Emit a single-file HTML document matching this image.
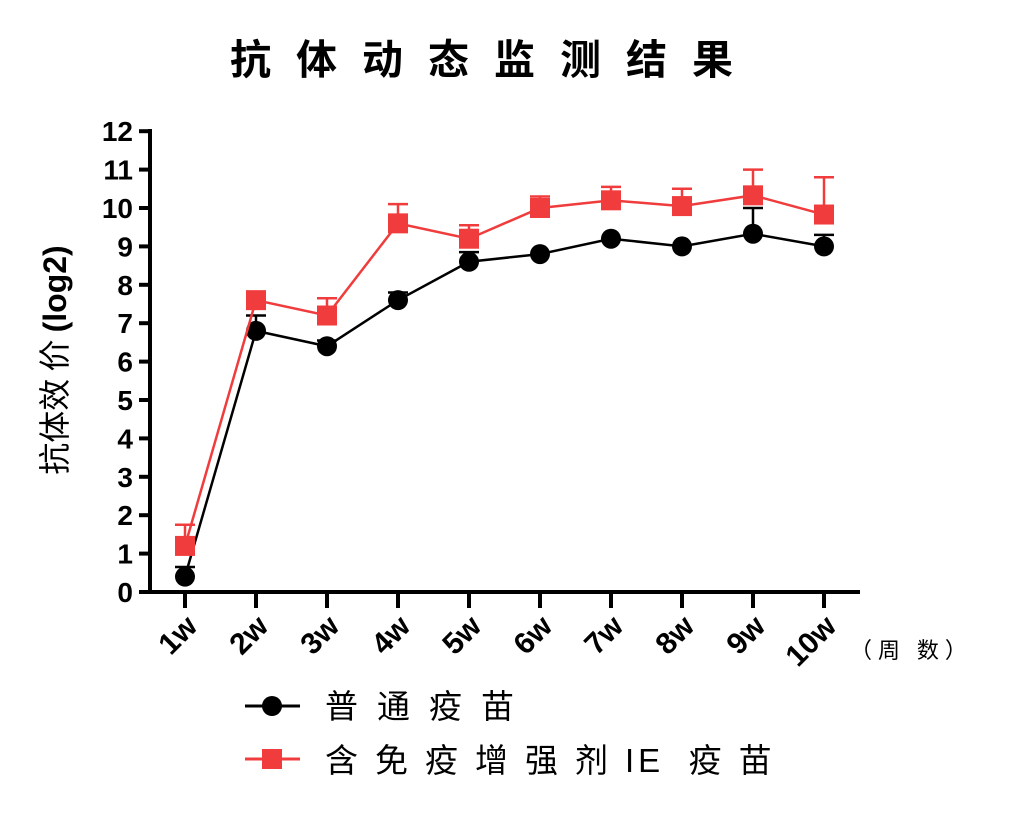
<!DOCTYPE html>
<html><head><meta charset="utf-8"><style>body{margin:0;background:#fff}svg{display:block}</style></head><body>
<svg width="1024" height="813" xmlns="http://www.w3.org/2000/svg" font-family="Liberation Sans, Noto Sans CJK SC, sans-serif">
<text x="230" y="74" font-size="41" font-weight="bold" font-family="Noto Sans CJK SC, sans-serif" letter-spacing="25">抗体动态监测结果</text>
<g stroke="#000" stroke-width="4" fill="none">
<line x1="150" y1="129" x2="150" y2="594"/>
<line x1="148" y1="592" x2="860" y2="592"/>
</g>
<g id="yt" stroke="#000" stroke-width="4"></g>
<g id="xt" stroke="#000" stroke-width="4"></g>
<g id="yl" font-size="28" font-weight="bold" text-anchor="end"></g>
<g id="xl" font-size="30" font-weight="bold" text-anchor="end"></g>
<text x="850" y="658" font-size="22" font-family="Noto Sans CJK SC, sans-serif" letter-spacing="6">（周 数）</text>
<text transform="translate(66,360) rotate(-90)" font-size="32" text-anchor="middle" font-family="Noto Sans CJK SC, sans-serif">抗体效 价 <tspan font-family="Liberation Sans" font-weight="bold"> (log2)</tspan></text>
<g id="series"></g>
<line x1="245" y1="706" x2="300" y2="706" stroke="#000" stroke-width="3"/>
<circle cx="272" cy="706" r="10" fill="#000"/>
<text x="325" y="718" font-size="33" font-family="Noto Sans CJK SC, sans-serif" letter-spacing="19">普通疫苗</text>
<line x1="245" y1="759" x2="300" y2="759" stroke="#f03c3c" stroke-width="3"/>
<rect x="262" y="749" width="20" height="20" fill="#f03c3c"/>
<text x="325" y="772" font-size="33" font-family="Noto Sans CJK SC, sans-serif" letter-spacing="17">含免疫增强剂<tspan font-family="Liberation Sans" letter-spacing="4">IE</tspan> 疫苗</text>
</svg>
<script>
const ns="http://www.w3.org/2000/svg";
function el(p,t,a,txt){const e=document.createElementNS(ns,t);for(const k in a)e.setAttribute(k,a[k]);if(txt!==undefined)e.textContent=txt;document.getElementById(p).appendChild(e);return e;}
const Y=v=>592-38.4*v, X=i=>185+71*i;
for(let v=0;v<=12;v++){el("yt","line",{x1:139,x2:150,y1:Y(v),y2:Y(v)});el("yl","text",{x:133,y:Y(v)+10},v);}
for(let i=0;i<10;i++){el("xt","line",{x1:X(i),x2:X(i),y1:592,y2:608});el("xl","text",{transform:`translate(${X(i)+14},${628}) rotate(-45)`},(i+1)+"w");}
const b=[0.4,6.8,6.4,7.6,8.6,8.8,9.2,9.0,9.33,9.0], be=[0.65,7.2,6.55,7.8,8.85,8.8,9.2,9.0,10.0,9.3];
const r=[1.2,7.6,7.2,9.6,9.2,10.0,10.2,10.05,10.33,9.83], re=[1.75,7.6,7.65,10.1,9.55,10.3,10.55,10.5,11.0,10.8];
function ser(d,e,c,sq){
 for(let i=0;i<10;i++){if(e[i]>d[i]){el("series","line",{x1:X(i),x2:X(i),y1:Y(d[i]),y2:Y(e[i]),stroke:c,"stroke-width":2.5});el("series","line",{x1:X(i)-10,x2:X(i)+10,y1:Y(e[i]),y2:Y(e[i]),stroke:c,"stroke-width":2.5});}}
 el("series","polyline",{points:d.map((v,i)=>X(i)+","+Y(v)).join(" "),fill:"none",stroke:c,"stroke-width":2.5});
 for(let i=0;i<10;i++){sq?el("series","rect",{x:X(i)-10,y:Y(d[i])-10,width:20,height:20,fill:c}):el("series","circle",{cx:X(i),cy:Y(d[i]),r:10,fill:c});}
}
ser(b,be,"#000",false);ser(r,re,"#f03c3c",true);
</script>
</body></html>
